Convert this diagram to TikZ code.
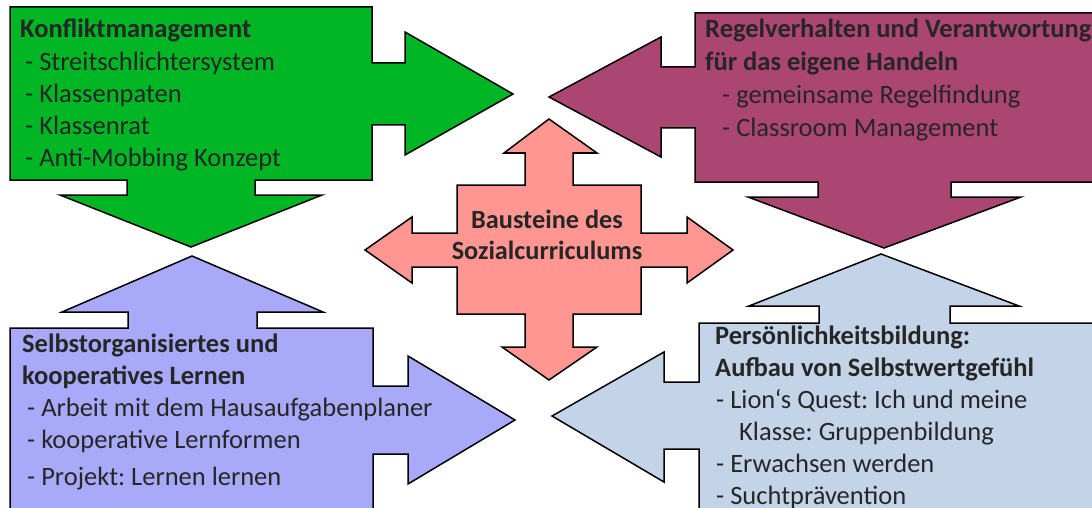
\documentclass[tikz,border=0pt]{standalone}
\usepackage{fontspec}
\setmainfont{Carlito}
\frenchspacing
\usetikzlibrary{positioning}
\definecolor{cGRN}{HTML}{00B624}
\definecolor{cMAG}{HTML}{AB4673}
\definecolor{cSAL}{HTML}{FF9691}
\definecolor{cVIO}{HTML}{A9A9F9}
\definecolor{cSKY}{HTML}{C4D4E8}
\definecolor{cTXT}{HTML}{262626}
\tikzset{
  blk/.style={draw=black, line width=1.5pt, line join=miter},
  txt/.style={anchor=base west, align=left, inner sep=0pt, text=cTXT, font=\fontsize{26.5}{32}\selectfont},
}
\begin{document}
\begin{tikzpicture}[x=1pt, y=-1pt]
\useasboundingbox (0,0) rectangle (1092,508);
\clip (0,0) rectangle (1092,508);
% Konfliktmanagement
\draw[blk, fill=cGRN] (10,7) -- (372,7) -- (372,63) -- (405,63) -- (405,32) -- (513,94) -- (405,155) -- (405,125) -- (372,125) -- (372,180) -- (255,180) -- (255,195) -- (322,195) -- (191,247) -- (60,195) -- (127,195) -- (127,180) -- (10,180) -- cycle;
\node[txt] (konflikt) at (20,166) {\textbf{Konfliktmanagement}\\\hspace*{5pt}- Streitschlichtersystem\\\hspace*{5pt}- Klassenpaten\\\hspace*{5pt}- Klassenrat\\\hspace*{5pt}- Anti-Mobbing Konzept};
% Regelverhalten
\draw[blk, fill=cMAG] (695,13) -- (1100,13) -- (1100,182) -- (951,182) -- (951,197) -- (1021,197) -- (884,248) -- (748,197) -- (818,197) -- (818,182) -- (695,182) -- (695,128) -- (661,128) -- (661,157) -- (549,97) -- (661,37) -- (661,67) -- (695,67) -- cycle;
\node[txt, font=\fontsize{26.5}{33.3}\selectfont] (regeln) at (705,137) {\textbf{Regelverhalten und Verantwortung}\\\textbf{für das eigene Handeln}\\\hspace*{17pt}- gemeinsame Regelfindung\\\hspace*{17pt}- Classroom Management};
% Selbstorganisiertes Lernen
\draw[blk, fill=cVIO] (10,328) -- (128,328) -- (128,312) -- (62,312) -- (192,256) -- (323,312) -- (257,312) -- (257,328) -- (373,328) -- (373,386) -- (408,386) -- (408,356) -- (515,420) -- (408,484) -- (408,454) -- (373,454) -- (373,515) -- (10,515) -- cycle;
\node[txt] (lernen) at (22,485) {\textbf{Selbstorganisiertes und}\\\textbf{kooperatives Lernen}\\\hspace*{5pt}- Arbeit mit dem Hausaufgabenplaner\\\hspace*{5pt}- kooperative Lernformen\\[5pt]\hspace*{5pt}- Projekt: Lernen lernen};
% Persoenlichkeitsbildung
\draw[blk, fill=cSKY] (699,323) -- (819,323) -- (819,306) -- (749,306) -- (881,254) -- (1019,306) -- (950,306) -- (950,323) -- (1100,323) -- (1100,515) -- (699,515) -- (699,449) -- (664,449) -- (664,482) -- (552,416) -- (664,352) -- (664,382) -- (699,382) -- cycle;
\node[txt] (person) at (715,504) {\textbf{Persönlichkeitsbildung:}\\\textbf{Aufbau von Selbstwertgefühl}\\\hspace*{1pt}- Lion‘s Quest: Ich und meine\\\hspace*{24pt}Klasse: Gruppenbildung\\\hspace*{1pt}- Erwachsen werden\\\hspace*{1pt}- Suchtprävention};
% Mitte
\draw[blk, fill=cSAL] (457,185) -- (525,185) -- (525,153) -- (504,153) -- (549,119) -- (597,153) -- (573,153) -- (573,185) -- (641,185) -- (641,233) -- (687,233) -- (687,217) -- (733,250) -- (687,283) -- (687,267) -- (641,267) -- (641,314) -- (573,314) -- (573,347) -- (597,347) -- (549,380) -- (502,347) -- (525,347) -- (525,314) -- (457,314) -- (457,267) -- (412,267) -- (412,283) -- (365,250) -- (412,217) -- (412,233) -- (457,233) -- cycle;
\node[txt, anchor=base, align=center, font=\bfseries\fontsize{26.3}{31}\selectfont] (mitte) at (547,259) {Bausteine des\\Sozialcurriculums};
\end{tikzpicture}
\end{document}
